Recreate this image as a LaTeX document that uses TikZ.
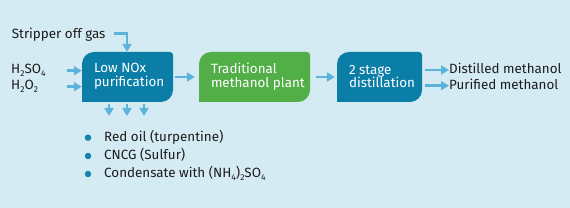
\documentclass[tikz,border=0pt]{standalone}
\usepackage{fontspec}
\setmainfont{Fira Sans}
\usetikzlibrary{arrows.meta}
\definecolor{bgc}{HTML}{D5EBF3}
\definecolor{boxblue}{HTML}{0B7EA8}
\definecolor{boxgreen}{HTML}{52AE47}
\definecolor{flowc}{HTML}{5BB3DC}
\definecolor{bulletc}{HTML}{1683AD}
\definecolor{txtc}{HTML}{1C1C1C}
\newcommand\chemsub[1]{\raisebox{-2.6pt}{\fontsize{8.5}{8.5}\selectfont #1}}
\newcommand\procbox[7]{%
  \fill[#6] (#2,#5) -- (#2,#3-12) arc[start angle=180,end angle=90,radius=12]
    -- (#4-3,#3) arc[start angle=90,end angle=0,radius=3]
    -- (#4,#5+12) arc[start angle=0,end angle=-90,radius=12] -- cycle;
  \node[boxarea,minimum width=#4-#2,minimum height=#3-#5] (#1)
    at ({(#2+#4)/2},{(#3+#5)/2}) {};
  \node[boxtext] (#1t) at ([xshift=12pt,yshift=0.5pt]#1.west) {#7};}
\tikzset{
  x=1pt,y=1pt,
  boxarea/.style={inner sep=0pt},
  boxtext/.style={inner sep=0pt,anchor=west,align=left,text=white,font=\fontsize{13.4}{13.6}\selectfont},
  lbl/.style={inner sep=0pt,anchor=base west,text=txtc,font=\fontsize{13.4}{13.6}\selectfont},
  flow/.style={draw=flowc,line width=2.5pt,-{Triangle[length=8pt,width=9pt]}},
  dot/.style={circle,fill=bulletc,inner sep=0pt,minimum size=6.5pt},
}
\begin{document}
\begin{tikzpicture}
\fill[bgc] (0,0) rectangle (570,208);
\useasboundingbox (0,0) rectangle (570,208);
\procbox{b1}{82}{156}{173}{106}{boxblue}{Low NOx\\purification}
\procbox{b2}{199}{156}{310}{106}{boxgreen}{Traditional\\methanol plant}
\procbox{b3}{337}{156}{422}{106}{boxblue}{2 stage\\distillation}
% labels
\node[lbl] (strip) at (11.7,169.7) {Stripper off gas};
\node[lbl] (h1) at (11,134) {H\chemsub{2}SO\chemsub{4}};
\node[lbl] (h2) at (11,118) {H\chemsub{2}O\chemsub{2}};
\node[lbl] (o1) at (449,134.7) {Distilled methanol};
\node[lbl] (o2) at (449,118) {Purified methanol};
% inputs
\coordinate (s0) at (114,174.7);
\draw[flow] (s0) -- (s0 -| 127,0) -- (b1.north -| 127,0);
\coordinate (i1) at (67,137.3);
\coordinate (i2) at (67,121.3);
\draw[flow] (i1) -- (i1 -| b1.west);
\draw[flow] (i2) -- (i2 -| b1.west);
% main flow
\draw[flow,shorten <=2pt,shorten >=4pt] (b1.east) -- (b2.west);
\draw[flow,shorten <=6pt,shorten >=2pt] (b2.east) -- (b3.west);
% outputs
\coordinate (e1) at (425,138);
\coordinate (e2) at (425,122.3);
\draw[flow] (e1) -- (e1 -| o1.west);
\draw[flow] (e2) -- (e2 -| o2.west);
% down arrows
\foreach \xx/\nm in {109/d1,127/d2,144/d3}{
  \coordinate (\nm) at (\xx,92);
  \draw[flow,shorten <=2pt] (b1.south -| \nm) -- (\nm);
}
% bullets
\node[dot] (p1) at (88,70.3) {};
\node[dot] (p2) at (88,52) {};
\node[dot] (p3) at (88,34) {};
\node[lbl] (t1) at (104,66.3) {Red oil (turpentine)};
\node[lbl] (t2) at (104,48) {CNCG (Sulfur)};
\node[lbl] (t3) at (104,30) {Condensate with (NH\chemsub{4})\chemsub{2}SO\chemsub{4}};
\end{tikzpicture}
\end{document}
